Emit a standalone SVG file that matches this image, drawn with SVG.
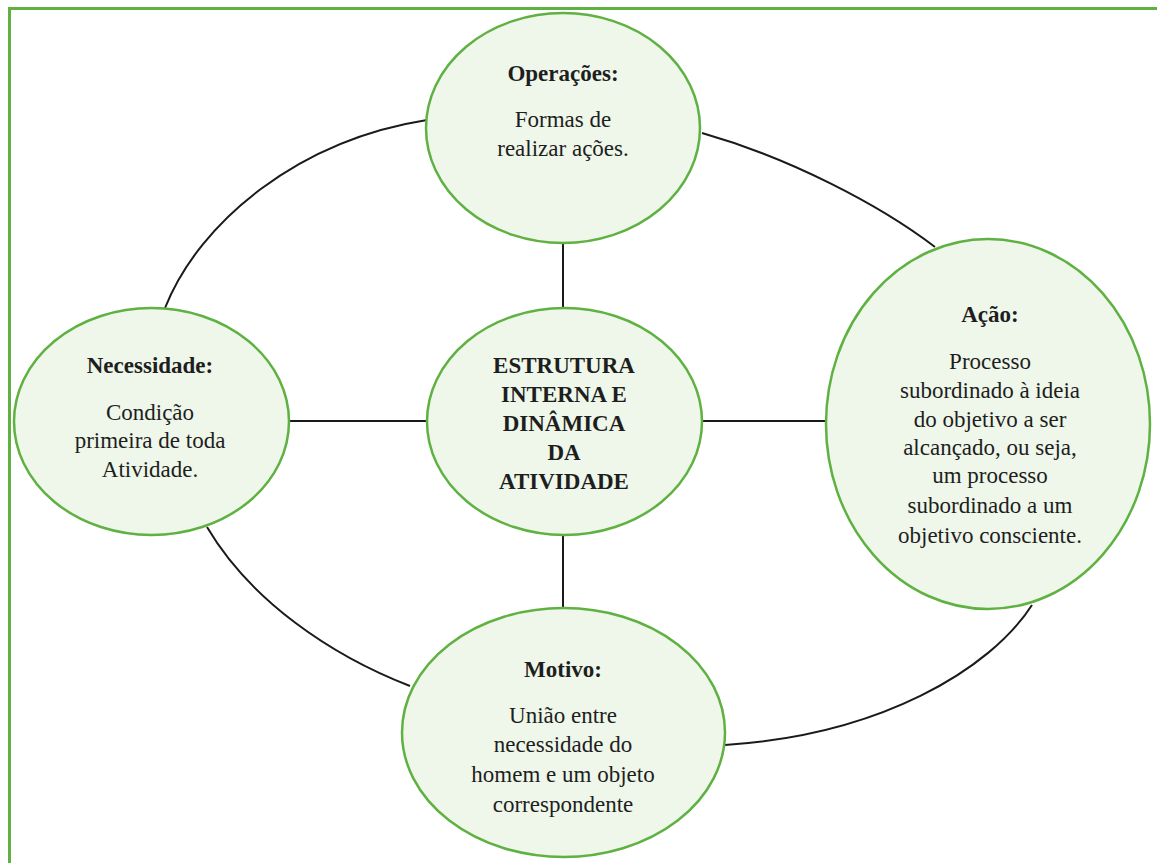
<svg xmlns="http://www.w3.org/2000/svg" width="1157" height="863" viewBox="0 0 1157 863">
<style>
.node{fill:#eef7ea;stroke:#5fb142;stroke-width:2.5}
.conn{fill:none;stroke:#1a1a1a;stroke-width:2}
text{font-size:23px;fill:#1e1e1e;text-anchor:middle}
.b{font-weight:bold}
</style>
<rect x="9.5" y="8.5" width="1200" height="900" fill="#ffffff" stroke="#5fb142" stroke-width="3"/>
<g id="connectors">
<path class="conn" d="M165,308 C200,220 300,140 427,120"/>
<path class="conn" d="M702,133 C790,158 880,205 935,247"/>
<path class="conn" d="M1032,605 C990,670 880,735 725,745"/>
<path class="conn" d="M207,527 C250,600 330,655 410,686"/>
<line class="conn" x1="563" y1="243" x2="563" y2="308"/>
<line class="conn" x1="563" y1="535" x2="563" y2="608"/>
<line class="conn" x1="289" y1="421" x2="427" y2="421"/>
<line class="conn" x1="702" y1="421" x2="826" y2="421"/>
</g>
<g font-family="'Liberation Serif', 'Times New Roman', serif">
<g id="operacoes">
<ellipse class="node" cx="563" cy="128" rx="137" ry="115"/>
<text class="b" x="563" y="81">Operações:</text>
<text x="563" y="127">Formas de</text>
<text x="563" y="156">realizar ações.</text>
</g>
<g id="centro">
<ellipse class="node" cx="564.5" cy="421.5" rx="137.5" ry="113.5"/>
<text class="b" x="564" y="373">ESTRUTURA</text>
<text class="b" x="564" y="402">INTERNA E</text>
<text class="b" x="564" y="431">DINÂMICA</text>
<text class="b" x="564" y="460">DA</text>
<text class="b" x="564" y="489">ATIVIDADE</text>
</g>
<g id="acao">
<ellipse class="node" cx="988" cy="424" rx="162" ry="185"/>
<text class="b" x="990" y="322">Ação:</text>
<text x="990" y="369">Processo</text>
<text x="990" y="398">subordinado à ideia</text>
<text x="990" y="427">do objetivo a ser</text>
<text x="990" y="455">alcançado, ou seja,</text>
<text x="990" y="483">um processo</text>
<text x="990" y="513">subordinado a um</text>
<text x="990" y="543">objetivo consciente.</text>
</g>
<g id="necessidade">
<ellipse class="node" cx="151.5" cy="421.5" rx="137.5" ry="113.5"/>
<text class="b" x="150" y="373">Necessidade:</text>
<text x="150" y="420">Condição</text>
<text x="150" y="448">primeira de toda</text>
<text x="150" y="477">Atividade.</text>
</g>
<g id="motivo">
<ellipse class="node" cx="563.5" cy="732.5" rx="161.5" ry="124.5"/>
<text class="b" x="563" y="677">Motivo:</text>
<text x="563" y="723">União entre</text>
<text x="563" y="752">necessidade do</text>
<text x="563" y="782">homem e um objeto</text>
<text x="563" y="812">correspondente</text>
</g>
</g>
</svg>
